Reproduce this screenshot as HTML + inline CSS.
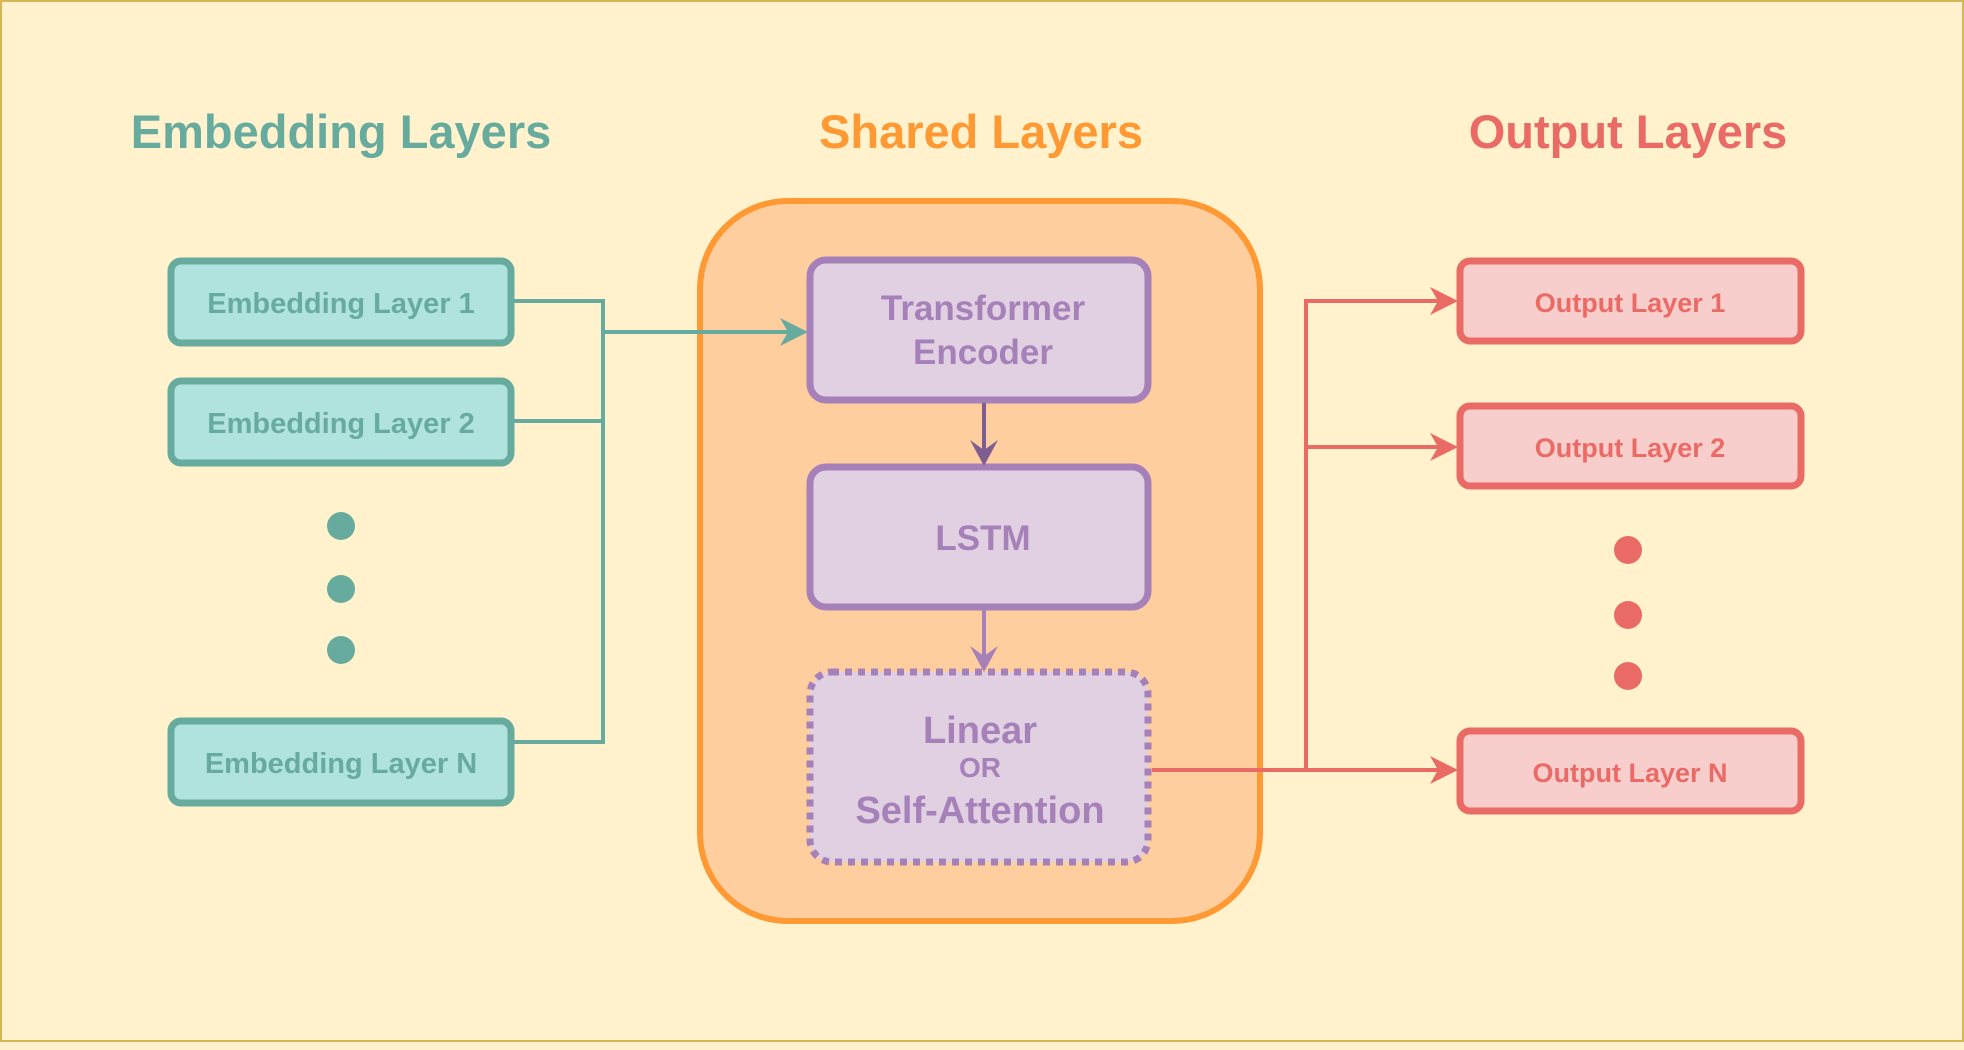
<!DOCTYPE html>
<html><head><meta charset="utf-8"><style>
html,body{margin:0;padding:0;background:#fff2cc;}
svg{display:block;}
text{font-family:"Liberation Sans",Arial,sans-serif;font-weight:bold;text-anchor:middle;}
</style></head><body>
<svg width="1964" height="1050" viewBox="0 0 1964 1050" xmlns="http://www.w3.org/2000/svg">
<rect x="1" y="1" width="1962" height="1040" fill="#fff2cc" stroke="#d6b656" stroke-width="2"/>
<text x="341" y="148" font-size="47" fill="#67ab9f">Embedding Layers</text>
<text x="981" y="148" font-size="47" fill="#ff9933">Shared Layers</text>
<text x="1628" y="148" font-size="47" fill="#ea6b66">Output Layers</text>

<rect x="700" y="201" width="560" height="720" rx="88" fill="#ffce9f" stroke="#ff9933" stroke-width="6"/>

<g fill="#b0e3dd" stroke="#67ab9f" stroke-width="7">
<rect x="171" y="261" width="340" height="82" rx="10"/>
<rect x="171" y="381" width="340" height="82" rx="10"/>
<rect x="171" y="721" width="340" height="82" rx="10"/>
</g>
<g font-size="29" fill="#67ab9f">
<text x="341" y="313">Embedding Layer 1</text>
<text x="341" y="433">Embedding Layer 2</text>
<text x="341" y="773">Embedding Layer N</text>
</g>
<g fill="#67ab9f"><circle cx="341" cy="526" r="14"/><circle cx="341" cy="589" r="14"/><circle cx="341" cy="650" r="14"/></g>
<g stroke="#67ab9f" stroke-width="4" fill="none">
<polyline points="514,301 603,301 603,742 514,742"/>
<line x1="514" y1="421" x2="603" y2="421"/>
<line x1="603" y1="332" x2="795" y2="332"/>
</g>
<polygon points="808,332 780,318 788,332 780,346" fill="#67ab9f"/>

<g fill="#e1d0e1" stroke="#a680b8" stroke-width="7">
<rect x="810" y="260" width="338" height="140" rx="16"/>
<rect x="810" y="467" width="338" height="140" rx="16"/>
<rect x="810" y="672" width="338" height="190" rx="22" stroke-dasharray="7,6"/>
</g>
<g fill="#a680b8">
<text x="983" y="320" font-size="35">Transformer</text>
<text x="983" y="364" font-size="35">Encoder</text>
<text x="983" y="550" font-size="35">LSTM</text>
<text x="980" y="743" font-size="38">Linear</text>
<text x="980" y="777" font-size="28">OR</text>
<text x="980" y="823" font-size="38">Self-Attention</text>
</g>
<line x1="984" y1="403" x2="984" y2="455" stroke="#7e5e91" stroke-width="4"/>
<polygon points="984,466 970,440 984,450 998,440" fill="#7e5e91"/>
<line x1="984" y1="610" x2="984" y2="660" stroke="#a680b8" stroke-width="4"/>
<polygon points="984,672 970,646 984,656 998,646" fill="#a680b8"/>

<g fill="#f8cecc" stroke="#ea6b66" stroke-width="7">
<rect x="1460" y="261" width="341" height="80" rx="10"/>
<rect x="1460" y="406" width="341" height="80" rx="10"/>
<rect x="1460" y="731" width="341" height="80" rx="10"/>
</g>
<g font-size="27" fill="#ea6b66">
<text x="1630" y="312">Output Layer 1</text>
<text x="1630" y="457">Output Layer 2</text>
<text x="1630" y="782">Output Layer N</text>
</g>
<g fill="#ea6b66"><circle cx="1628" cy="550" r="14"/><circle cx="1628" cy="615" r="14"/><circle cx="1628" cy="676" r="14"/></g>
<g stroke="#ea6b66" stroke-width="4" fill="none">
<polyline points="1152,770 1306,770 1306,301 1444,301"/>
<line x1="1306" y1="447" x2="1444" y2="447"/>
<line x1="1306" y1="770" x2="1444" y2="770"/>
</g>
<g fill="#ea6b66">
<polygon points="1458,301 1430,287 1438,301 1430,315"/>
<polygon points="1458,447 1430,433 1438,447 1430,461"/>
<polygon points="1458,770 1430,756 1438,770 1430,784"/>
</g>
</svg>
</body></html>
